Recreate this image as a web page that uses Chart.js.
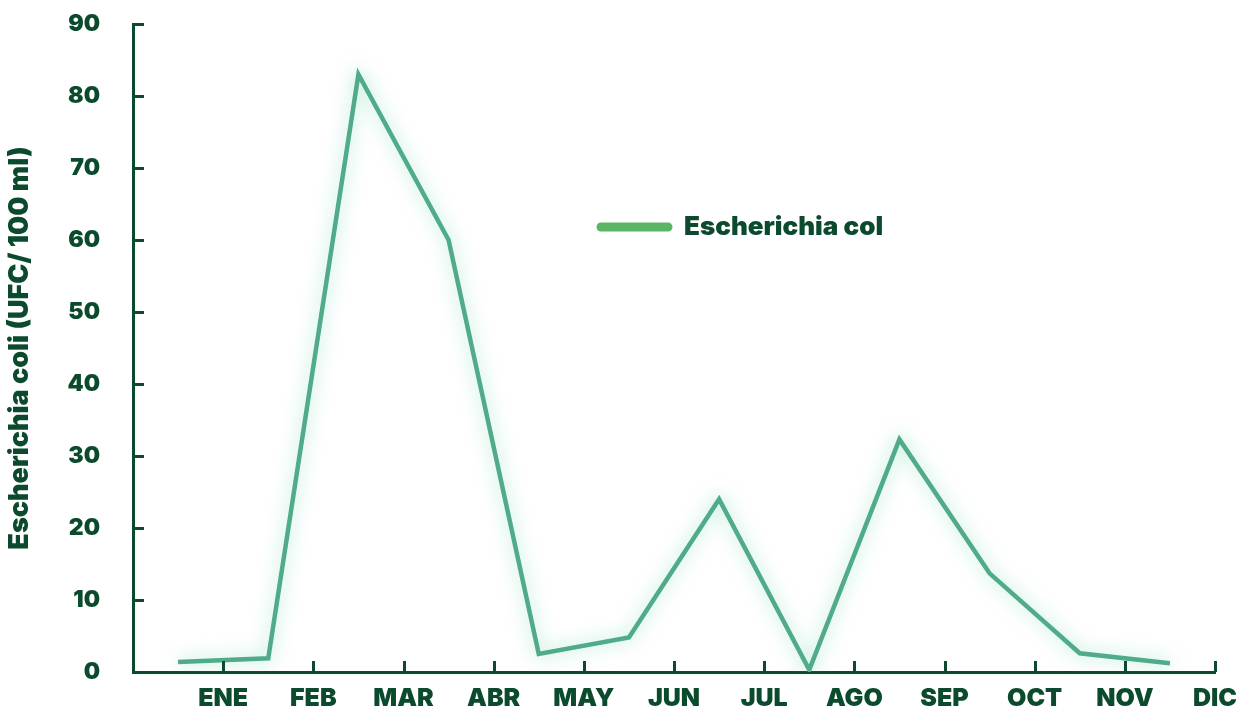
<!DOCTYPE html>
<html>
<head>
<meta charset="utf-8">
<script src="https://cdn.jsdelivr.net/npm/chart.js@4.4.1/dist/chart.umd.min.js"></script>
<style>
  html, body { margin: 0; padding: 0; background: #fff; overflow: hidden; }
  canvas { display: block; }
</style>
</head>
<body>
<canvas id="chart" width="1249" height="711"></canvas>
<script>
// --- Data ---
const months = ['ENE', 'FEB', 'MAR', 'ABR', 'MAY', 'JUN', 'JUL', 'AGO', 'SEP', 'OCT', 'NOV', 'DIC'];
const ecoli = [1.4, 1.9, 83, 60, 2.5, 4.8, 24, 0.3, 32.3, 13.7, 2.6, 1.2];
const yTicks = [0, 10, 20, 30, 40, 50, 60, 70, 80, 90];
const seriesName = 'Escherichia col';
const yTitle = 'Escherichia coli (UFC/ 100 ml)';

const dark = '#0b4a2d';
const lineColor = '#4fab88';
const legendColor = '#5cb565';
const font = 'Inter';

// points sit half way between month ticks, like the original
const points = ecoli.map((v, i) => ({ x: i + 0.5, y: v }));

// inward tick marks
const axisTicks = {
    id: 'axisTicks',
    afterDraw(chart) {
        const { ctx, scales: { x, y } } = chart;
        ctx.save();
        ctx.strokeStyle = dark;
        ctx.lineWidth = 3;
        ctx.beginPath();
        yTicks.forEach(v => {
            const py = Math.round(y.getPixelForValue(v)) + 0.5;
            ctx.moveTo(x.left, py);
            ctx.lineTo(x.left + 11, py);
        });
        for (let i = 1; i <= months.length; i++) {
            const px = Math.round(x.getPixelForValue(i)) + 0.5;
            ctx.moveTo(px, y.bottom);
            ctx.lineTo(px, y.bottom - 11);
        }
        ctx.stroke();
        ctx.restore();
    }
};

const glow = {
    id: 'glow',
    beforeDatasetDraw(chart) {
        const ctx = chart.ctx;
        ctx.save();
        ctx.shadowColor = 'rgba(70, 200, 150, 0.55)';
        ctx.shadowBlur = 18;
    },
    afterDatasetDraw(chart) {
        chart.ctx.restore();
    }
};

const legendBox = {
    id: 'legendBox',
    afterDraw(chart) {
        const ctx = chart.ctx;
        ctx.save();
        ctx.strokeStyle = legendColor;
        ctx.lineWidth = 9;
        ctx.lineCap = 'round';
        ctx.beginPath();
        ctx.moveTo(601, 227);
        ctx.lineTo(668, 227);
        ctx.stroke();
        ctx.fillStyle = dark;
        ctx.font = '900 26px ' + font;
        ctx.textBaseline = 'middle';
        ctx.fillText(seriesName, 684, 227);
        ctx.restore();
    }
};

new Chart(document.getElementById('chart'), {
    type: 'line',
    data: {
        datasets: [{
            label: seriesName,
            data: points,
            borderColor: lineColor,
            borderWidth: 4.5,
            pointRadius: 0,
            tension: 0,
            fill: false,
        }]
    },
    options: {
        responsive: false,
        devicePixelRatio: 1,
        animation: false,
        layout: { padding: { top: 24, right: 34, left: 0, bottom: 0 } },
        plugins: {
            legend: { display: false },
            tooltip: { enabled: false },
        },
        scales: {
            x: {
                type: 'linear',
                min: 0,
                max: 12,
                afterFit: s => { s.height = 39; },
                afterBuildTicks: s => { s.ticks = months.map((m, i) => ({ value: i + 1 })); },
                grid: { display: false, drawTicks: false },
                border: { display: true, color: dark, width: 3 },
                ticks: {
                    autoSkip: false,
                    maxRotation: 0,
                    padding: 11,
                    color: dark,
                    font: { family: font, size: 25, weight: '900' },
                    callback: v => months[v - 1] || '',
                },
            },
            y: {
                min: 0,
                max: 90,
                afterFit: s => { s.width = 133; s.paddingTop = 0; s.paddingBottom = 0; },
                afterBuildTicks: s => { s.ticks = yTicks.map(v => ({ value: v })); },
                grid: { display: false, drawTicks: false },
                border: { display: true, color: dark, width: 3 },
                ticks: {
                    padding: 33,
                    color: dark,
                    font: { family: font, size: 23, weight: '900' },
                },
                title: {
                    display: true,
                    text: yTitle,
                    color: dark,
                    padding: { top: 4, bottom: 0 },
                    font: { family: font, size: 27, weight: '900' },
                },
            },
        },
    },
    plugins: [glow, axisTicks, legendBox],
});
</script>
</body>
</html>
